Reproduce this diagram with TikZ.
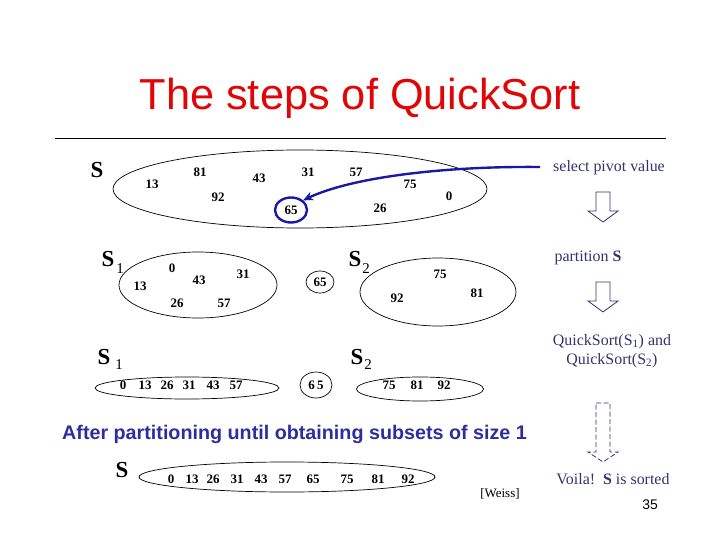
\documentclass[tikz,border=0pt]{standalone}
\usepackage{fontspec}
\setmainfont{Liberation Serif}
\setsansfont{Liberation Sans}
\usetikzlibrary{shapes.geometric,arrows.meta}
\definecolor{titlered}{RGB}{225,5,5}
\definecolor{navy}{RGB}{50,50,110}
\definecolor{hblue}{RGB}{45,45,160}
\definecolor{pblue}{RGB}{25,25,165}
\begin{document}
\begin{tikzpicture}[x=1bp,y=-1bp,
  num/.style={inner sep=0, font=\fontsize{13}{13}\selectfont\bfseries},
  setlab/.style={inner sep=0, font=\fontsize{23}{23}\selectfont\bfseries},
  sublab/.style={inner sep=0, font=\fontsize{15}{15}\selectfont},
  setell/.style={draw, ellipse, line width=0.7, inner sep=0},
  note/.style={inner sep=0, text=navy, font=\fontsize{16}{19}\selectfont, align=center},
  hollow/.style={draw=navy, line width=0.8, line join=miter}]
\useasboundingbox (0,0) rectangle (720,540);

% title and rule
\node[inner sep=0, anchor=base, text=titlered, font=\fontsize{43.5}{50}\sffamily] (title) at (360,110) {The steps of QuickSort};
\draw[line width=0.9] (55,138) -- (666,138);

% ---- row 1: S
\node[setlab] (s0) at (97,170) {S};
\node[setell, minimum width=374bp, minimum height=78bp] (e0) at (300,189) {};
\node[num] (a13) at (152,184) {13};
\node[num] (a81) at (200,172) {81};
\node[num] (a43) at (259,178) {43};
\node[num] (a31) at (308,172) {31};
\node[num] (a57) at (356,172) {57};
\node[num] (a92) at (218,197) {92};
\node[num] (a75) at (410,184) {75};
\node[num] (a0)  at (449,196) {0};
\node[num] (a26) at (380,208) {26};
\node[num, draw=pblue, line width=2.4, ellipse, inner sep=0, minimum width=32bp, minimum height=25bp] (c65) at (291,210) {65};
\coordinate (pv) at (540,167);
\draw[pblue, line width=2.4, -{Stealth[length=10bp,width=9bp]}] (pv) .. controls (440,166) and (350,178) .. (c65.north east);
\node[note] (selpiv) at (609,168) {select pivot value};

% ---- row 2: partition
\node[setlab] (s1a) at (108,259) {S};
\node[sublab] (s1asub) at (120,269) {1};
\node[setell, minimum width=158bp, minimum height=66bp] (e1a) at (198,285) {};
\node[num] (b0)  at (172,268) {0};
\node[num] (b43) at (199,280) {43};
\node[num] (b31) at (243,274) {31};
\node[num] (b13) at (140,286) {13};
\node[num] (b26) at (177,303) {26};
\node[num] (b57) at (224,303) {57};
\node[num, setell, minimum width=28bp, minimum height=22bp] (b65) at (320,282) {65};
\node[setlab] (s2a) at (355,259) {S};
\node[sublab] (s2asub) at (366,269) {2};
\node[setell, minimum width=156bp, minimum height=68bp] (e2a) at (438,292) {};
\node[num] (b75) at (440,274) {75};
\node[num] (b81) at (477,293) {81};
\node[num] (b92) at (397,298) {92};
\node[note] (part) at (588,258) {partition \textbf{S}};

% ---- row 3: recursive calls
\node[setlab] (s1b) at (104,357) {S};
\node[sublab] (s1bsub) at (119,365) {1};
\node[setell, minimum width=184bp, minimum height=22bp] (e1b) at (187,388) {};
\node[num] (c0)  at (123,385) {0};
\node[num] (c13) at (145,385) {13};
\node[num] (c26) at (167,385) {26};
\node[num] (c31) at (189,385) {31};
\node[num] (c43) at (213,385) {43};
\node[num] (c57) at (236,385) {57};
\node[num, setell, minimum width=32bp, minimum height=26bp] (cc65) at (316,385) {6\,5};
\node[setlab] (s2b) at (357,357) {S};
\node[sublab] (s2bsub) at (368,365) {2};
\node[setell, minimum width=127bp, minimum height=24bp] (e2b) at (420,389) {};
\node[num] (c75) at (389,385) {75};
\node[num] (c81) at (417,385) {81};
\node[num] (c92) at (444,385) {92};
\node[note] (qs) at (612,351) {QuickSort(S\textsubscript{1}) and\\QuickSort(S\textsubscript{2})};

% ---- heading
\node[inner sep=0, anchor=base west, text=hblue, font=\fontsize{19.8}{24}\sffamily\bfseries] (after) at (62,439) {After partitioning until obtaining subsets of size 1};

% ---- row 4: sorted
\node[setlab] (s3) at (122,470) {S};
\node[setell, minimum width=296bp, minimum height=30bp] (e3) at (287,477) {};
\node[num] (d0)  at (171,479) {0};
\node[num] (d13) at (192,479) {13};
\node[num] (d26) at (213,479) {26};
\node[num] (d31) at (237,479) {31};
\node[num] (d43) at (261,479) {43};
\node[num] (d57) at (285,479) {57};
\node[num] (d65) at (313,479) {65};
\node[num] (d75) at (347,479) {75};
\node[num] (d81) at (378,479) {81};
\node[num] (d92) at (408,479) {92};
\node[note] (voila) at (613,479) {Voila!\ \ \textbf{S} is sorted};
\node[inner sep=0, font=\fontsize{13}{13}\selectfont] (weiss) at (500,494) {[Weiss]};
\node[inner sep=0, font=\fontsize{14}{14}\sffamily] (pageno) at (650,505) {35};

% ---- hollow down arrows
\draw[hollow] (596,192) -- (610,192) -- (610,211) -- (618,211) -- (603,222) -- (588,211) -- (596,211) -- cycle;
\draw[hollow] (596,282) -- (610,282) -- (610,301) -- (618,301) -- (603,312) -- (588,301) -- (596,301) -- cycle;
\draw[hollow, dash pattern=on 5bp off 2.5bp] (596,403) -- (610,403) -- (610,452) -- (618,452) -- (603,462) -- (588,452) -- (596,452) -- cycle;
\end{tikzpicture}
\end{document}
